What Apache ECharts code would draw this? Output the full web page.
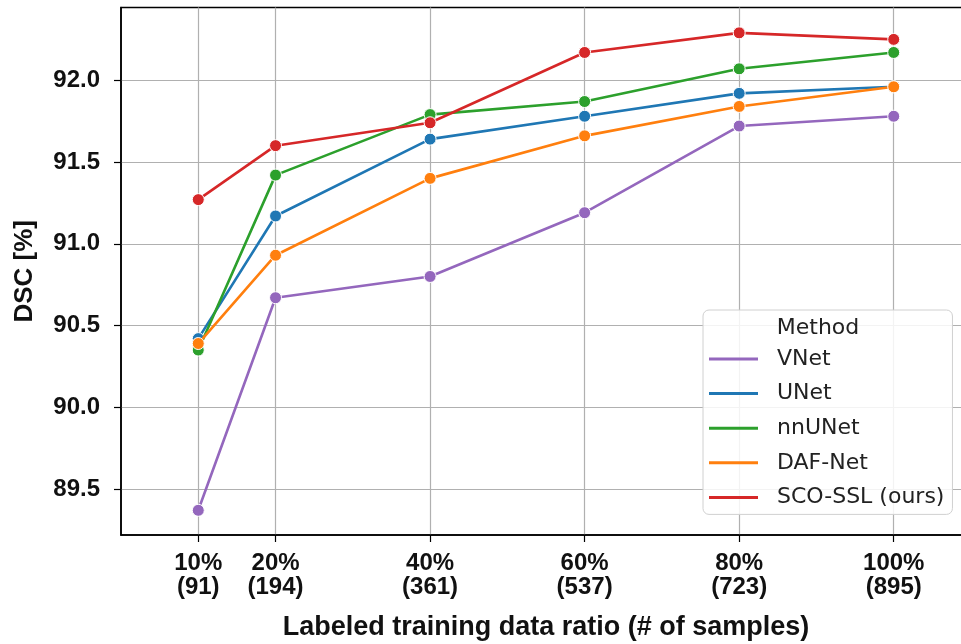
<!DOCTYPE html>
<html>
<head>
<meta charset="utf-8">
<script src="https://cdn.jsdelivr.net/npm/echarts@6/dist/echarts.min.js"></script>
<style>
html,body{margin:0;padding:0;background:#fff;}
#chart{width:961px;height:644px;}
</style>
</head>
<body>
<div id="chart"></div>
<script>
const ratios = [10, 20, 40, 60, 80, 100];
const sampleCounts = [91, 194, 361, 537, 723, 895];
const yTicks = [89.5, 90.0, 90.5, 91.0, 91.5, 92.0];
const seriesNames = ['VNet', 'UNet', 'nnUNet', 'DAF-Net', 'SCO-SSL (ours)'];
const vnet   = [89.37, 90.67, 90.80, 91.19, 91.72, 91.78];
const unet   = [90.42, 91.17, 91.64, 91.78, 91.92, 91.96];
const nnunet = [90.35, 91.42, 91.79, 91.87, 92.07, 92.17];
const dafnet = [90.39, 90.93, 91.40, 91.66, 91.84, 91.96];
const scossl = [91.27, 91.60, 91.74, 92.17, 92.29, 92.25];
const seriesColors = ['#9467bd', '#1f77b4', '#2ca02c', '#ff7f0e', '#d62728'];

const allValues = [vnet, unet, nnunet, dafnet, scossl];
const chart = echarts.init(document.getElementById('chart'), null, {renderer: 'canvas'});

const tickFont = '"Liberation Sans", Arial, sans-serif';
const series = seriesNames.map((name, i) => ({
  name: name,
  type: 'line',
  data: ratios.map((r, j) => [r, allValues[i][j]]),
  symbol: 'circle',
  symbolSize: 12,
  showSymbol: true,
  lineStyle: {width: 2.6, color: seriesColors[i]},
  itemStyle: {color: seriesColors[i], borderColor: '#fff', borderWidth: 1},
  emphasis: {disabled: true},
  z: 2 + i
}));

chart.setOption({
  animation: false,
  backgroundColor: '#fff',
  grid: {
    left: 121, top: 7.5, width: 850, height: 527.5,
    show: true, borderColor: '#000', borderWidth: 1.5, backgroundColor: 'transparent',
    outerBoundsMode: 'none', containLabel: false
  },
  xAxis: {
    type: 'value', min: 0, max: 110,
    axisLine: {show: true, onZero: false, lineStyle: {color: '#000', width: 1.5}},
    axisTick: {show: true, length: 7, lineStyle: {color: '#000', width: 1.2}, customValues: ratios},
    splitLine: {show: true, lineStyle: {color: '#b0b0b0', width: 1.2}},
    axisLabel: {
      customValues: ratios,
      margin: 16,
      fontFamily: tickFont, fontWeight: 'bold', fontSize: 24, lineHeight: 24, color: '#111',
      formatter: function (v) {
        const idx = ratios.indexOf(Math.round(v));
        return idx >= 0 ? ratios[idx] + '%\n(' + sampleCounts[idx] + ')' : '';
      }
    },
    name: 'Labeled training data ratio (# of samples)',
    nameLocation: 'middle', nameGap: 79,
    nameTextStyle: {fontFamily: tickFont, fontWeight: 'bold', fontSize: 27, color: '#111'}
  },
  yAxis: {
    type: 'value', min: 89.219, max: 92.445,
    axisLine: {show: true, lineStyle: {color: '#000', width: 1.5}},
    axisTick: {show: true, length: 7, lineStyle: {color: '#000', width: 1.2}, customValues: yTicks},
    splitLine: {show: true, lineStyle: {color: '#b0b0b0', width: 1.2}},
    axisLabel: {
      customValues: yTicks,
      margin: 21,
      fontFamily: tickFont, fontWeight: 'bold', fontSize: 24, color: '#111',
      formatter: function (v) { return Number(v).toFixed(1); }
    },
    name: 'DSC [%]',
    nameLocation: 'middle', nameGap: 83, nameRotate: 90,
    nameTextStyle: {fontFamily: tickFont, fontWeight: 'bold', fontSize: 26, color: '#111'}
  },
  legend: {
    data: seriesNames,
    orient: 'vertical',
    left: 703, top: 310,
    padding: [36, 8, 4, 6],
    itemGap: 8.6,
    itemWidth: 49, itemHeight: 3,
    icon: 'rect',
    itemStyle: {borderWidth: 0},
    lineStyle: {width: 0},
    backgroundColor: 'rgba(255,255,255,0.85)',
    borderColor: '#d0d0d0', borderWidth: 1, borderRadius: 6,
    textStyle: {fontFamily: '"DejaVu Sans", sans-serif', fontSize: 22, lineHeight: 26, color: '#222', padding: [0, 0, 0, 14]},
    selectedMode: false,
    z: 20
  },
  graphic: [{
    type: 'text', x: 818, y: 328, z: 100, zlevel: 0,
    style: {text: 'Method', textAlign: 'center', textVerticalAlign: 'middle',
            font: '22px "DejaVu Sans", sans-serif', fill: '#222'}
  }],
  series: series
});
</script>
</body>
</html>
